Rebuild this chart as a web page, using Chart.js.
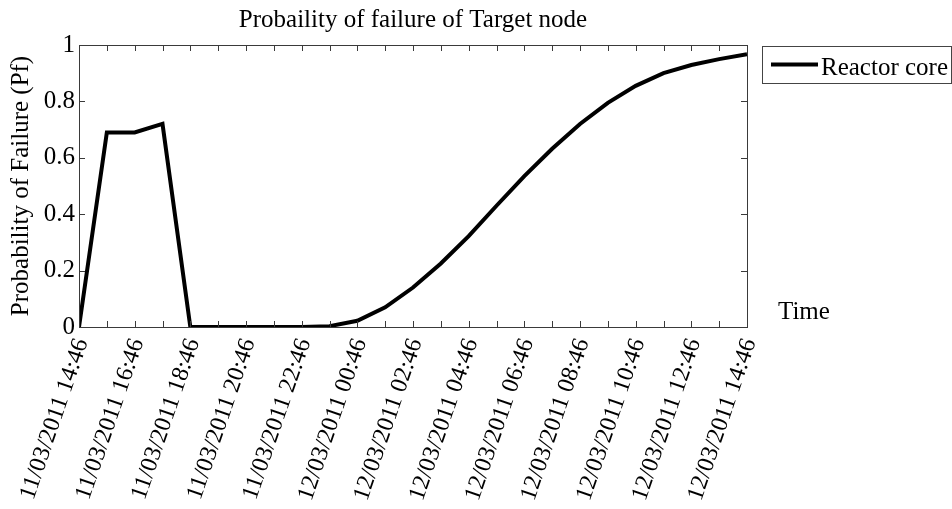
<!DOCTYPE html>
<html>
<head>
<meta charset="utf-8">
<script src="https://cdn.jsdelivr.net/npm/chart.js@4.4.1/dist/chart.umd.min.js"></script>
<style>
  html, body { margin: 0; padding: 0; background: #fff; }
</style>
</head>
<body>
<canvas id="pfChart" width="952" height="509"></canvas>
<script>
// hours since 11/03/2011 14:46
const hours = [0, 1, 2, 3, 4, 5, 6, 7, 8, 9, 10, 11, 12, 13, 14, 15, 16, 17, 18, 19, 20, 21, 22, 23, 24];
// probability of failure, reactor core
const pf = [0, 0.69, 0.69, 0.72, 0, 0, 0, 0, 0, 0.003, 0.022, 0.07, 0.14, 0.225, 0.322, 0.43, 0.535,
            0.632, 0.72, 0.795, 0.855, 0.90, 0.929, 0.95, 0.967];
// one label every two hours
const timeLabels = ['11/03/2011 14:46', '11/03/2011 16:46', '11/03/2011 18:46', '11/03/2011 20:46',
                    '11/03/2011 22:46', '12/03/2011 00:46', '12/03/2011 02:46', '12/03/2011 04:46',
                    '12/03/2011 06:46', '12/03/2011 08:46', '12/03/2011 10:46', '12/03/2011 12:46',
                    '12/03/2011 14:46'];
const yTicks = [0, 0.2, 0.4, 0.6, 0.8, 1];
const seriesName = 'Reactor core';

const serif = "'Liberation Serif', 'Times New Roman', serif";
const txtFont = { family: serif, size: 25 };
const axisColor = '#3a3a3a';

// box around the axes, inward tick marks, title, legend and the "Time" note
const frame = {
  id: 'frame',
  afterDraw(chart) {
    const { ctx, chartArea: a, scales: { x, y } } = chart;
    ctx.save();
    ctx.strokeStyle = axisColor;
    ctx.lineWidth = 1;
    ctx.strokeRect(Math.round(a.left) + 0.5, Math.round(a.top) + 0.5,
                   Math.round(a.right - a.left), Math.round(a.bottom - a.top));
    ctx.beginPath();
    x.ticks.forEach(t => {
      const px = Math.round(x.getPixelForValue(t.value)) + 0.5;
      ctx.moveTo(px, a.bottom); ctx.lineTo(px, a.bottom - 6);
      ctx.moveTo(px, a.top); ctx.lineTo(px, a.top + 6);
    });
    y.ticks.forEach(t => {
      const py = Math.round(y.getPixelForValue(t.value)) + 0.5;
      ctx.moveTo(a.left, py); ctx.lineTo(a.left + 6, py);
      ctx.moveTo(a.right, py); ctx.lineTo(a.right - 6, py);
    });
    ctx.stroke();

    ctx.fillStyle = '#000';
    ctx.font = '25px ' + serif;
    ctx.textBaseline = 'alphabetic';
    ctx.textAlign = 'center';
    ctx.fillText('Probaility of failure of Target node', (a.left + a.right) / 2, 27);

    ctx.textAlign = 'left';
    ctx.fillText('Time', 778, 319);

    // legend
    const ds = chart.data.datasets[0];
    ctx.strokeStyle = '#444';
    ctx.lineWidth = 1;
    ctx.strokeRect(762.5, 46.5, 189, 37);
    ctx.strokeStyle = ds.borderColor;
    ctx.lineWidth = 4;
    ctx.beginPath();
    ctx.moveTo(771, 64.5); ctx.lineTo(818, 64.5);
    ctx.stroke();
    ctx.fillText(ds.label, 821, 75);
    ctx.restore();
  }
};

new Chart(document.getElementById('pfChart'), {
  type: 'line',
  data: {
    datasets: [{
      label: seriesName,
      data: hours.map((h, i) => ({ x: h, y: pf[i] })),
      borderColor: '#000',
      borderWidth: 4,
      borderJoinStyle: 'miter',
      pointRadius: 0,
      tension: 0,
      fill: false
    }]
  },
  options: {
    responsive: false,
    animation: false,
    devicePixelRatio: 1,
    layout: { padding: { top: 45, right: 205, left: 0, bottom: 0 } },
    plugins: { legend: { display: false }, title: { display: false }, tooltip: { enabled: false } },
    scales: {
      x: {
        type: 'linear',
        min: 0,
        max: 24,
        afterBuildTicks: s => { s.ticks = hours.map(v => ({ value: v })); },
        afterFit: s => { s.height = 182; },
        grid: { display: false, drawTicks: false },
        border: { display: false },
        ticks: {
          autoSkip: false,
          minRotation: 71,
          maxRotation: 71,
          padding: 8,
          labelOffset: 3,
          color: '#000',
          font: { family: serif, size: 24 },
          callback: v => (v % 2 === 0 ? timeLabels[v / 2] : '')
        }
      },
      y: {
        min: 0,
        max: 1,
        afterBuildTicks: s => { s.ticks = yTicks.map(v => ({ value: v })); },
        afterFit: s => { s.width = 79; },
        grid: { display: false, drawTicks: false },
        border: { display: false },
        ticks: { padding: 4, color: '#000', font: txtFont, callback: v => String(v) },
        title: {
          display: true,
          text: 'Probability of Failure (Pf)',
          color: '#000',
          font: txtFont,
          padding: { top: 6, bottom: 0 }
        }
      }
    }
  },
  plugins: [frame]
});
</script>
</body>
</html>
